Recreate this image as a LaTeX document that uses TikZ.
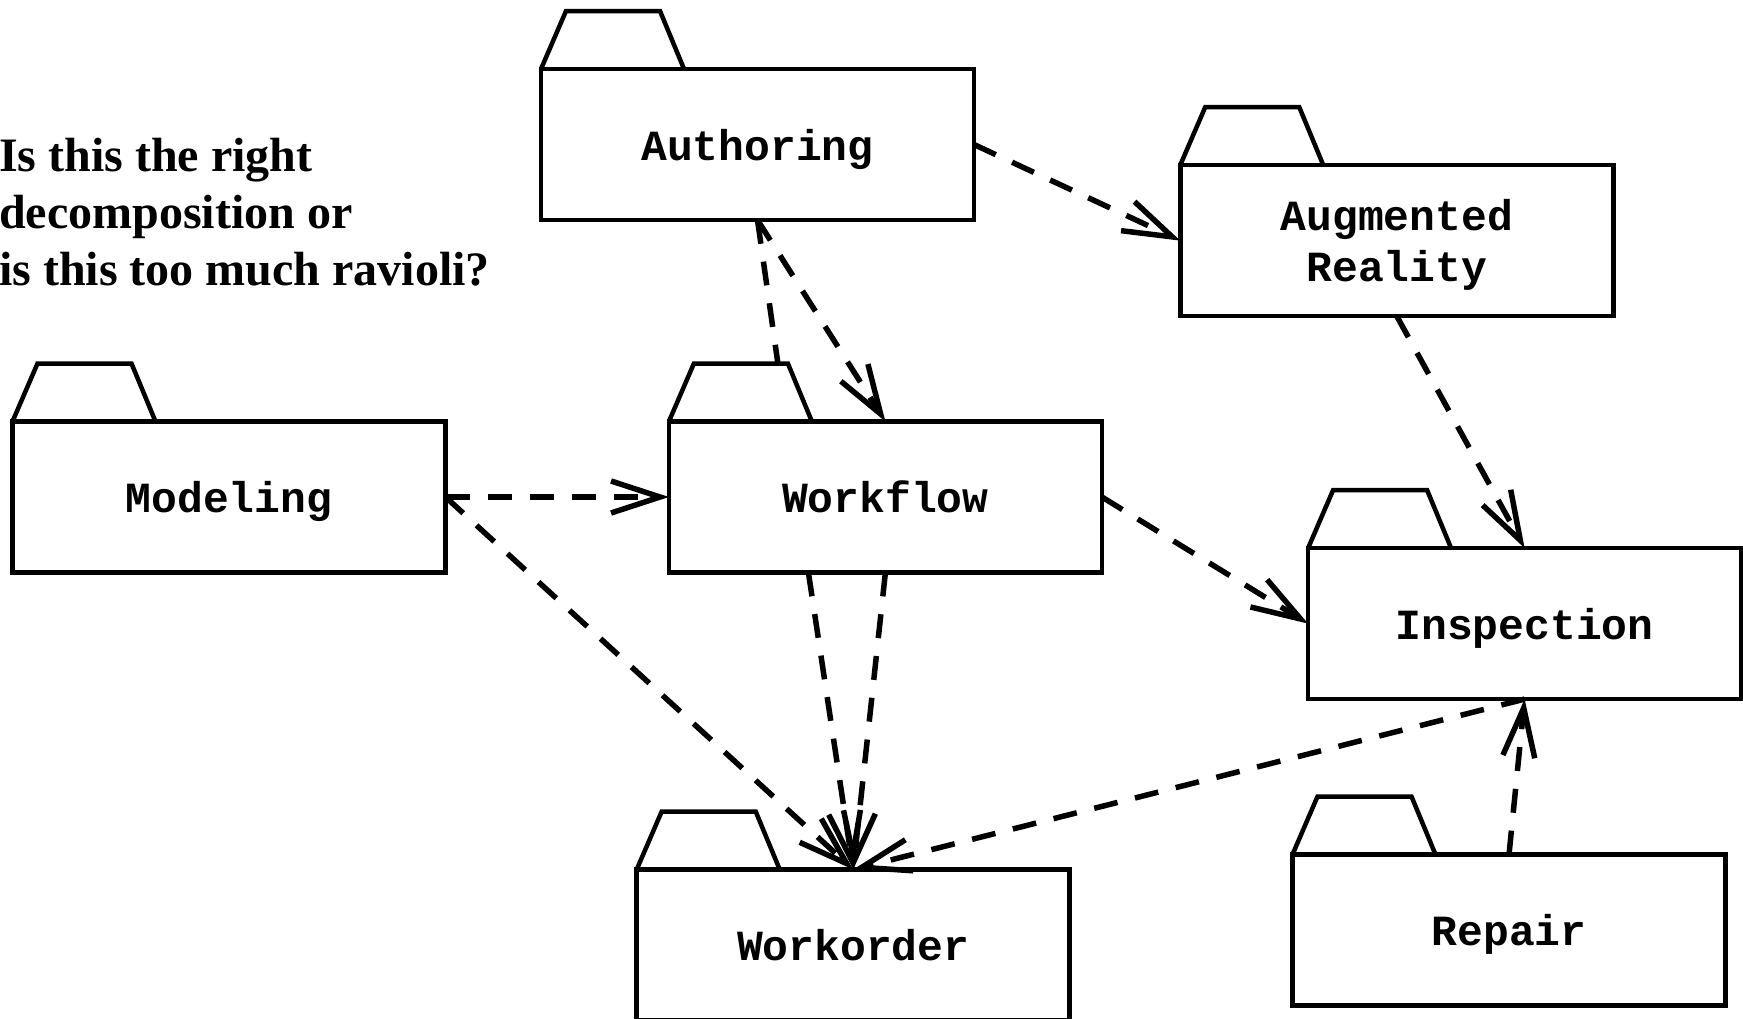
\documentclass[tikz,border=0pt]{standalone}
\usepackage{fontspec}
\setmainfont{Liberation Serif}
\newfontfamily\codefont{Liberation Mono}
\usetikzlibrary{arrows.meta}

% tab on top of a package box
\newcommand\pkgtab[1]{%
  \draw[line width=4.5pt] (#1.north west) -- ++(25,-58) -- ++(94,0)
    -- ([xshift=143pt]#1.north west);}

\begin{document}
\begin{tikzpicture}[x=1pt,y=-1pt,
  pkg/.style={draw, line width=4.5pt, minimum width=433pt, minimum height=151pt,
    inner sep=0pt, outer sep=0pt, align=center, text depth=0pt,
    execute at begin node={\vphantom{l}},
    font=\codefont\bfseries\fontsize{43}{51}\selectfont},
  link/.style={line width=5.5pt, dash pattern=on 24pt off 18pt},
  dep/.style={link, -{Straight Barb[length=49pt,width=32pt]}},
]
\useasboundingbox (0,0) rectangle (1743,1018);

% the last line's baseline is the node's base
\node[anchor=base west, align=left, inner sep=0pt,
      font=\bfseries\fontsize{48}{57}\selectfont] (q) at (-1,285.5)
  {Is this the right\\decomposition or\\is this too much ravioli?};

\node[pkg] (auth) at (757.5,144.5) {Authoring};
\node[pkg] (ar)   at (1396.75,240.6) {Augmented\\Reality};
\node[pkg] (mod)  at (229,497) {Modeling};
\node[pkg] (wf)   at (885.4,497) {Workflow};
\node[pkg] (insp) at (1524.6,623.6) {Inspection};
\node[pkg] (wo)   at (853.2,945) {Workorder};
\node[pkg] (rep)  at (1509,930) {Repair};

\foreach \p in {auth,ar,mod,wf,insp,wo,rep} {\pkgtab{\p}}

\draw[dep] (auth.east) -- (ar.west);
\draw[dep] (mod.east) -- (wf.west);
\draw[dep] (mod.east) -- (wo.north);
\draw[dep] (auth.south) -- (wf.north);
\draw[link] (auth.south) -- ([shift={(109,-58)}]wf.north west);
\draw[dep] ([xshift=-77pt]wf.south) -- (wo.north);
\draw[dep] (wf.south) -- (wo.north);
\draw[dep] (ar.south) -- (insp.north);
\draw[dep] (wf.east) -- (insp.west);
\draw[dep] (insp.south) -- (wo.north);
\draw[dep] (rep.north) -- (insp.south);
\end{tikzpicture}
\end{document}
